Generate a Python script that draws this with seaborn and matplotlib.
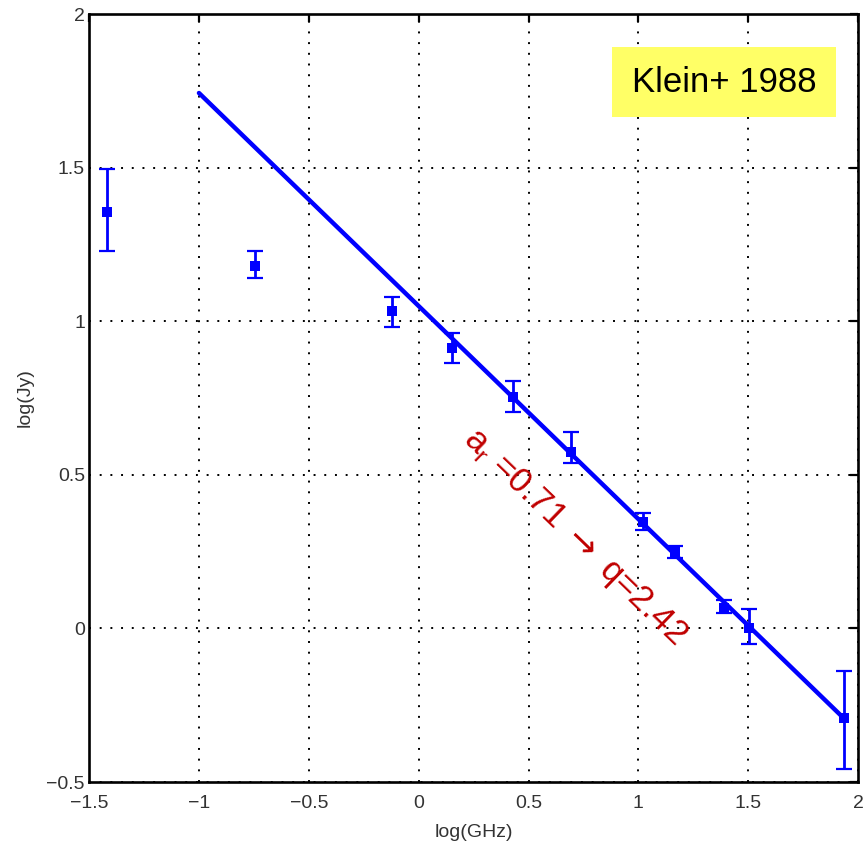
import matplotlib
matplotlib.use("Agg")
import matplotlib.pyplot as plt
from matplotlib.patches import Rectangle
import pandas as pd
import seaborn as sns

# Radio spectrum: log flux density vs log frequency
log_freq = [-1.42, -0.745, -0.123, 0.15, 0.43, 0.695, 1.02, 1.165, 1.39, 1.505, 1.936]
log_flux = [1.355, 1.18, 1.033, 0.912, 0.752, 0.575, 0.345, 0.248, 0.068, 0.003, -0.293]
err_low = [0.127, 0.04, 0.053, 0.049, 0.048, 0.035, 0.025, 0.018, 0.019, 0.055, 0.163]
err_high = [0.14, 0.048, 0.045, 0.049, 0.053, 0.063, 0.03, 0.019, 0.026, 0.059, 0.153]

# Power-law fit endpoints
fit_x = [-1.0, 1.936]
fit_y = [1.743, -0.293]

x_ticks = [-1.5, -1, -0.5, 0, 0.5, 1, 1.5, 2]
y_ticks = [-0.5, 0, 0.5, 1, 1.5, 2]
x_tick_labels = ["\u22121.5", "\u22121", "\u22120.5", "0", "0.5", "1", "1.5", "2"]
y_tick_labels = ["\u22120.5", "0", "0.5", "1", "1.5", "2"]

annotation = "a$_\\mathregular{r}$ =0.71 $\\rightarrow$ q=2.42"
badge = "Klein+ 1988"

sns.set_style("white")
plt.rcParams["font.family"] = ["Liberation Sans", "DejaVu Sans"]
plt.rcParams["mathtext.fontset"] = "dejavusans"

points = pd.DataFrame({"x": log_freq, "y": log_flux})
fit = pd.DataFrame({"x": fit_x, "y": fit_y})

fig = plt.figure(figsize=(8.65, 8.51), dpi=100)
ax = fig.add_axes([0.103, 0.081, 0.889, 0.9025])

blue = "#0000ff"
ax.grid(True, color="black", linestyle=(0, (1, 4.5)), linewidth=1.4)
ax.set_axisbelow(True)

sns.lineplot(data=fit, x="x", y="y", color=blue, linewidth=3.2, ax=ax, zorder=3)
ax.errorbar(log_freq, log_flux, yerr=[err_low, err_high], fmt="none",
            ecolor=blue, elinewidth=2.0, capsize=6, capthick=1.6, zorder=4)
sns.scatterplot(data=points, x="x", y="y", marker="s", s=50, color=blue,
                edgecolor=blue, linewidth=0, ax=ax, zorder=5)

ax.set_xlim(-1.5, 2)
ax.set_ylim(-0.5, 2)
ax.set_xticks(x_ticks)
ax.set_xticklabels(x_tick_labels)
ax.set_yticks(y_ticks)
ax.set_yticklabels(y_tick_labels)
ax.tick_params(direction="in", length=6, width=1.6, top=True, right=True,
               labelsize=14, labelcolor="#333333", color="black")
ax.tick_params(axis="x", pad=9)
ax.tick_params(axis="y", pad=3)
for s in ax.spines.values():
    s.set_visible(True)
    s.set_color("black")
    s.set_linewidth(1.9)

ax.set_xlabel("log(GHz)", fontsize=14, color="#333333", labelpad=9)
ax.set_ylabel("log(Jy)", fontsize=14, color="#333333", labelpad=9)

ax.text(0.709, 0.296, annotation, color="#c00000", fontsize=25,
        rotation=-44, rotation_mode="anchor", ha="center", va="center", zorder=6)

ax.add_patch(Rectangle((0.680, 0.866), 0.291, 0.091, transform=ax.transAxes,
                       facecolor="#ffff66", edgecolor="none", zorder=6))
ax.text(0.826, 0.911, badge, transform=ax.transAxes, fontsize=25,
        color="black", ha="center", va="center", zorder=7)

fig.savefig("out.png", dpi=100)
